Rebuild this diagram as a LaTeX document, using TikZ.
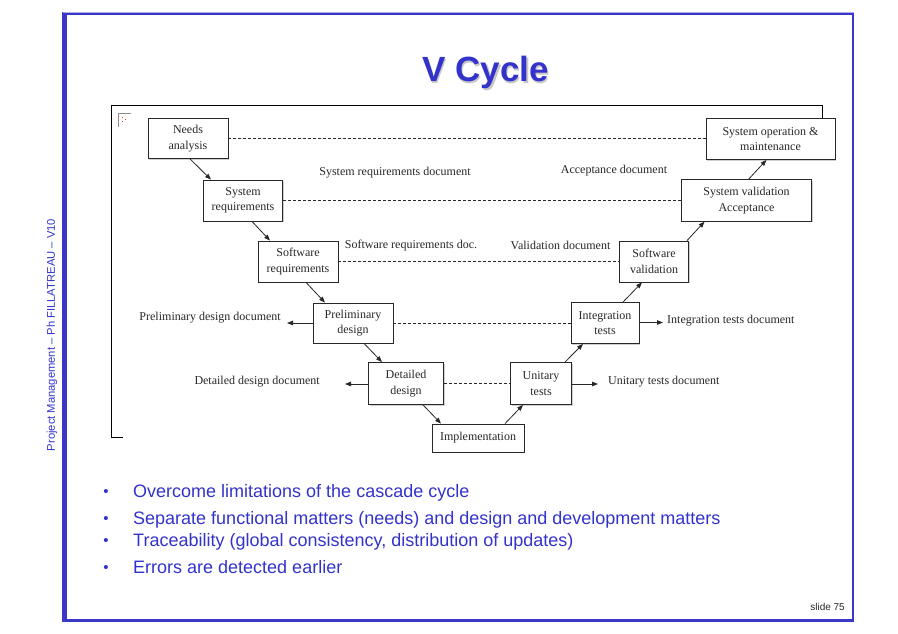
\documentclass[tikz,border=0pt]{standalone}
\usepackage{fontspec}
\setmainfont{Liberation Sans}
\newfontfamily\dserif{Liberation Serif}
\usetikzlibrary{arrows.meta,shadows,calc}
\definecolor{slideblue}{RGB}{51,51,204}
\definecolor{borderblue}{RGB}{58,54,200}
\definecolor{diagray}{RGB}{40,40,40}
\tikzset{
  vbox/.style={draw=diagray, line width=0.8pt, fill=white, align=center, inner sep=0pt,
    font=\dserif\fontsize{12}{15.5}\selectfont, text=diagray,
    drop shadow={shadow xshift=1.2pt, shadow yshift=-1.2pt, fill=black!30, opacity=0.6}},
  vlabel/.style={font=\dserif\fontsize{12}{14}\selectfont, text=diagray, inner sep=0pt},
  flow/.style={draw=diagray, line width=0.8pt, -{Triangle[length=6pt,width=4.5pt]}},
  trace/.style={draw=diagray, line width=0.7pt, dash pattern=on 3pt off 2pt},
  bullettext/.style={font=\fontsize{18}{21}\selectfont, text=slideblue, anchor=base west, inner sep=0pt},
  bulletdot/.style={font=\fontsize{15}{17}\selectfont, text=slideblue, anchor=base, inner sep=0pt},
}
\begin{document}
\begin{tikzpicture}[x=1pt,y=-1pt]
\useasboundingbox (0,0) rectangle (898,634);
\fill[white] (0,0) rectangle (898,634);
% slide border
\draw[borderblue, line width=2.5pt] (63.5,13.7) rectangle (853,620.5);
\fill[borderblue] (62,12.5) rectangle (66.7,621.7);
\draw[borderblue!40, line width=0.8pt] (63,12.2) -- (854,12.2);
% title with soft shadow
\node[font=\bfseries\fontsize{35}{40}\selectfont, text=black!22, anchor=base, inner sep=0pt] (titleshadow) at (487,83.5) {V Cycle};
\node[font=\bfseries\fontsize{35}{40}\selectfont, text=slideblue, anchor=base, inner sep=0pt] (title) at (485.5,82) {V Cycle};
% side text
\node[rotate=90, font=\fontsize{11.2}{13}\selectfont, text=slideblue, inner sep=0pt] (side) at (52,335) {Project Management – Ph FILLATREAU – V10};
% slide number
\node[font=\fontsize{10}{12}\selectfont, text=black!85, anchor=base east, inner sep=0pt] (slideno) at (845,610) {slide 75};
% embedded picture frame
\draw[black, line width=0.8pt] (123,437) -- (111,437) -- (111,105.5) -- (822.5,105.5) -- (822.5,118.5);
\draw[black!45, line width=0.6pt] (118.5,127.5) -- (118.5,113) -- (131,113);
\fill[red!85] (121.5,117) rectangle (123,118.5);
\fill[red!85] (121.5,121) rectangle (123,122.5);
\fill[red!85] (124.5,119) rectangle (126,120.5);
% boxes
\node[vbox, minimum width=80pt, minimum height=40pt] (needs) at (188,138.5) {Needs\\analysis};
\node[vbox, minimum width=79pt, minimum height=41pt] (sysreq) at (243,200.5) {System\\requirements};
\node[vbox, minimum width=80pt, minimum height=41pt] (swreq) at (298,261.5) {Software\\requirements};
\node[vbox, minimum width=80pt, minimum height=40pt] (prelim) at (353,323) {Preliminary\\design};
\node[vbox, minimum width=75pt, minimum height=42pt] (detail) at (406,383.5) {Detailed\\design};
\node[vbox, minimum width=92pt, minimum height=28pt] (impl) at (478,438) {Implementation};
\node[vbox, minimum width=61pt, minimum height=42pt] (unit) at (541,383.5) {Unitary\\tests};
\node[vbox, minimum width=68pt, minimum height=41pt] (integ) at (605,323) {Integration\\tests};
\node[vbox, minimum width=69pt, minimum height=41pt] (swval) at (654,261.5) {Software\\validation};
\node[vbox, minimum width=130pt, minimum height=41.5pt] (sysval) at (746.5,200.5) {System validation\\Acceptance};
\node[vbox, minimum width=129pt, minimum height=41pt] (sysop) at (770.5,139) {System operation \&\\maintenance};
% traceability dashed lines
\draw[trace] (needs.east) -- (sysop.west |- needs.east);
\draw[trace] (sysreq.east) -- (sysval.west);
\draw[trace] (swreq.east) -- (swval.west);
\draw[trace] (prelim.east) -- (integ.west);
\draw[trace] (detail.east) -- (unit.west);
% V flow
\draw[flow] ([xshift=2pt]needs.south) -- ([xshift=-32pt]sysreq.north);
\draw[flow] ([xshift=9pt]sysreq.south) -- ([xshift=-28pt]swreq.north);
\draw[flow] ([xshift=8pt]swreq.south) -- ([xshift=-28pt]prelim.north);
\draw[flow] ([xshift=11pt]prelim.south) -- ([xshift=-24pt]detail.north);
\draw[flow] ([xshift=17pt]detail.south) -- ([xshift=-37pt]impl.north);
\draw[flow] ([xshift=27pt]impl.north) -- ([xshift=-18pt]unit.south);
\draw[flow] ([xshift=24pt]unit.north) -- ([xshift=-22pt]integ.south);
\draw[flow] ([xshift=18pt]integ.north) -- ([xshift=-12pt]swval.south);
\draw[flow] ([xshift=33pt]swval.north) -- ([xshift=-42pt]sysval.south);
\draw[flow] ([xshift=2pt]sysval.north) -- ([xshift=-4pt]sysop.south);
% document labels
\node[vlabel] (lsrd) at (395,173) {System requirements document};
\node[vlabel] (lacc) at (614,171) {Acceptance document};
\node[vlabel] (lswrd) at (411,246) {Software requirements doc.};
\node[vlabel] (lval) at (560.5,245.5) {Validation document};
\node[vlabel, anchor=east] (lpdd) at (281,318) {Preliminary design document};
\node[vlabel, anchor=east] (lddd) at (320,381.5) {Detailed design document};
\node[vlabel, anchor=west] (litd) at (667,320.5) {Integration tests document};
\node[vlabel, anchor=west] (lutd) at (608,381.5) {Unitary tests document};
\coordinate (pdocend) at (287,323);
\coordinate (ddocend) at (345,384);
\coordinate (idocend) at (663,322.5);
\coordinate (udocend) at (598,384);
\draw[flow] (prelim.west) -- (pdocend);
\draw[flow] (detail.west |- ddocend) -- (ddocend);
\draw[flow] (integ.east |- idocend) -- (idocend);
\draw[flow] (unit.east |- udocend) -- (udocend);
% bullets
\node[bulletdot] (b1) at (106,496.5) {•};
\node[bulletdot] (b2) at (106,523.5) {•};
\node[bulletdot] (b3) at (106,545.5) {•};
\node[bulletdot] (b4) at (106,572.5) {•};
\node[bullettext] (t1) at (133,497) {Overcome limitations of the cascade cycle};
\node[bullettext] (t2) at (133,524) {Separate functional matters (needs) and design and development matters};
\node[bullettext] (t3) at (133,546) {Traceability (global consistency, distribution of updates)};
\node[bullettext] (t4) at (133,573) {Errors are detected earlier};
\end{tikzpicture}
\end{document}
